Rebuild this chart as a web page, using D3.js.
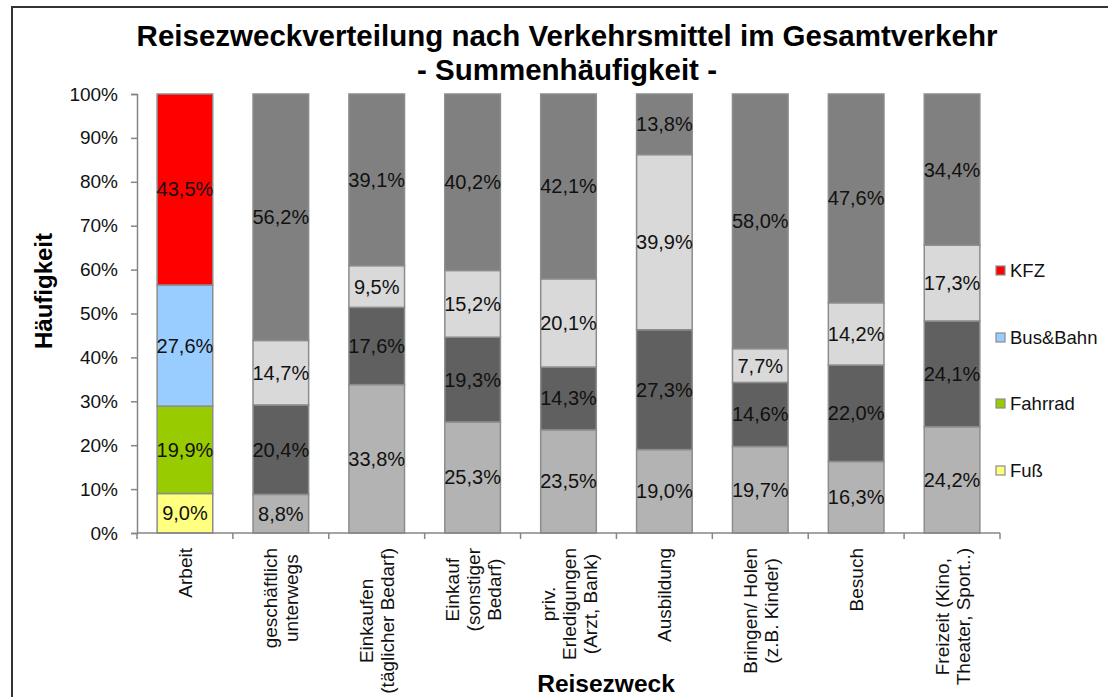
<!DOCTYPE html>
<meta charset="utf-8">
<style>
  body { margin: 0; background: #fff; }
  text { font-family: "Liberation Sans", Arial, sans-serif; }
</style>
<svg width="1108" height="697"></svg>
<script src="https://d3js.org/d3.v7.min.js"></script>
<script>
// categories (lines of each rotated label)
var categories = ["Arbeit", "geschäftlich unterwegs", "Einkaufen (täglicher Bedarf)", "Einkauf (sonstiger Bedarf)",
  "priv. Erledigungen (Arzt, Bank)", "Ausbildung", "Bringen/ Holen (z.B. Kinder)", "Besuch", "Freizeit (Kino, Theater, Sport..)"]
var labelLines = [["Arbeit"], ["geschäftlich", "unterwegs"], ["Einkaufen", "(täglicher Bedarf)"], ["Einkauf", "(sonstiger", "Bedarf)"],
  ["priv.", "Erledigungen", "(Arzt, Bank)"], ["Ausbildung"], ["Bringen/ Holen", "(z.B. Kinder)"], ["Besuch"], ["Freizeit (Kino,", "Theater, Sport..)"]]

var modes = ["Fuß", "Fahrrad", "Bus&Bahn", "KFZ"]
var fuss     = [9.0, 8.8, 33.8, 25.3, 23.5, 19.0, 19.7, 16.3, 24.2]
var fahrrad  = [19.9, 20.4, 17.6, 19.3, 14.3, 27.3, 14.6, 22.0, 24.1]
var busBahn  = [27.6, 14.7, 9.5, 15.2, 20.1, 39.9, 7.7, 14.2, 17.3]
var kfz      = [43.5, 56.2, 39.1, 40.2, 42.1, 13.8, 58.0, 47.6, 34.4]
var yTicks = [0, 0.1, 0.2, 0.3, 0.4, 0.5, 0.6, 0.7, 0.8, 0.9, 1]

var colorArbeit = { "Fuß": "#ffff80", "Fahrrad": "#99cc00", "Bus&Bahn": "#99ccff", "KFZ": "#ff0000" }
var colorGrey = { "Fuß": "#b3b3b3", "Fahrrad": "#606060", "Bus&Bahn": "#d9d9d9", "KFZ": "#808080" }

var rows = categories.map(function (c, i) {
  return { cat: c, "Fuß": fuss[i], "Fahrrad": fahrrad[i], "Bus&Bahn": busBahn[i], "KFZ": kfz[i] }
})
var series = d3.stack().keys(modes).offset(d3.stackOffsetExpand)(rows)

var svg = d3.select("svg")
var plotLeft = 137, plotRight = 1000, plotTop = 94, plotBottom = 533

// outer frame
svg.append("rect").attr("x", 12).attr("y", 7).attr("width", 1120).attr("height", 720)
  .attr("fill", "none").attr("stroke", "#333").attr("stroke-width", 2)

var x = d3.scaleBand().domain(categories).range([plotLeft, plotRight]).paddingInner(0.42).paddingOuter(0.21)
var y = d3.scaleLinear().domain([0, 1]).range([plotBottom, plotTop])

svg.append("text").attr("x", 567).attr("y", 46).attr("text-anchor", "middle")
  .attr("font-size", 29.5).attr("font-weight", "bold").text("Reisezweckverteilung nach Verkehrsmittel im Gesamtverkehr")
svg.append("text").attr("x", 567).attr("y", 80).attr("text-anchor", "middle")
  .attr("font-size", 29.5).attr("font-weight", "bold").text("- Summenhäufigkeit -")

// bars
var layer = svg.append("g").selectAll("g").data(series).enter().append("g")
layer.selectAll("rect").data(function (s) { return s.map(function (d, i) { return { key: s.key, d: d, i: i } }) })
  .enter().append("rect")
  .attr("x", function (o) { return x(categories[o.i]) })
  .attr("width", x.bandwidth())
  .attr("y", function (o) { return y(o.d[1]) })
  .attr("height", function (o) { return y(o.d[0]) - y(o.d[1]) })
  .attr("fill", function (o) { return o.i === 0 ? colorArbeit[o.key] : colorGrey[o.key] })
  .attr("stroke", "#8c8c8c").attr("stroke-width", 1.5)

var raw = { "Fuß": fuss, "Fahrrad": fahrrad, "Bus&Bahn": busBahn, "KFZ": kfz }
layer.selectAll("text").data(function (s) { return s.map(function (d, i) { return { key: s.key, d: d, i: i } }) })
  .enter().append("text")
  .attr("x", function (o) { return x(categories[o.i]) + x.bandwidth() / 2 })
  .attr("y", function (o) { return (y(o.d[0]) + y(o.d[1])) / 2 + 7 })
  .attr("text-anchor", "middle").attr("font-size", 20).attr("fill", "#111")
  .text(function (o) { return raw[o.key][o.i].toFixed(1).replace(".", ",") + "%" })

// y axis
var yAxis = svg.append("g").attr("transform", "translate(" + plotLeft + ",0)")
  .call(d3.axisLeft(y).tickValues(yTicks).tickFormat(d3.format(".0%")).tickSize(6).tickPadding(13))
yAxis.select(".domain").attr("stroke", "#868686").attr("stroke-width", 1.5)
yAxis.selectAll(".tick line").attr("stroke", "#868686").attr("stroke-width", 1.5)
yAxis.selectAll(".tick text").attr("font-size", 19).attr("fill", "#111").attr("font-family", "Liberation Sans, Arial, sans-serif")

// x axis line and ticks at band boundaries
svg.append("line").attr("x1", plotLeft).attr("x2", plotRight).attr("y1", plotBottom).attr("y2", plotBottom)
  .attr("stroke", "#868686").attr("stroke-width", 1.5)
var step = (plotRight - plotLeft) / categories.length
d3.range(categories.length + 1).forEach(function (k) {
  svg.append("line").attr("x1", plotLeft + k * step).attr("x2", plotLeft + k * step)
    .attr("y1", plotBottom).attr("y2", plotBottom + 6).attr("stroke", "#868686").attr("stroke-width", 1.5)
})

// rotated category labels
labelLines.forEach(function (lines, i) {
  var cx = x(categories[i]) + x.bandwidth() / 2
  var g = svg.append("g")
  var texts = lines.map(function (t, j) {
    return g.append("text").attr("font-size", 19).attr("fill", "#111").attr("text-anchor", "middle").text(t)
  })
  var maxLen = d3.max(texts, function (t) { return t.node().getComputedTextLength() })
  var cy = 548 + maxLen / 2
  texts.forEach(function (t, j) {
    var lx = cx + (j - (lines.length - 1) / 2) * 21 + 7
    t.attr("transform", "translate(" + lx + "," + cy + ") rotate(-90)")
  })
})

svg.append("text").attr("x", 606).attr("y", 692).attr("text-anchor", "middle")
  .attr("font-size", 24.5).attr("font-weight", "bold").text("Reisezweck")
svg.append("text").attr("transform", "translate(52,291) rotate(-90)").attr("text-anchor", "middle")
  .attr("font-size", 24).attr("font-weight", "bold").text("Häufigkeit")

// legend
var legendY = { "KFZ": 266, "Bus&Bahn": 333, "Fahrrad": 399, "Fuß": 466 }
modes.slice().reverse().forEach(function (m) {
  svg.append("rect").attr("x", 996).attr("y", legendY[m]).attr("width", 9).attr("height", 9)
    .attr("fill", colorArbeit[m]).attr("stroke", "#8c8c8c").attr("stroke-width", 1.2)
  svg.append("text").attr("x", 1010).attr("y", legendY[m] + 11).attr("font-size", 18.5).attr("fill", "#111").text(m)
})
</script>
